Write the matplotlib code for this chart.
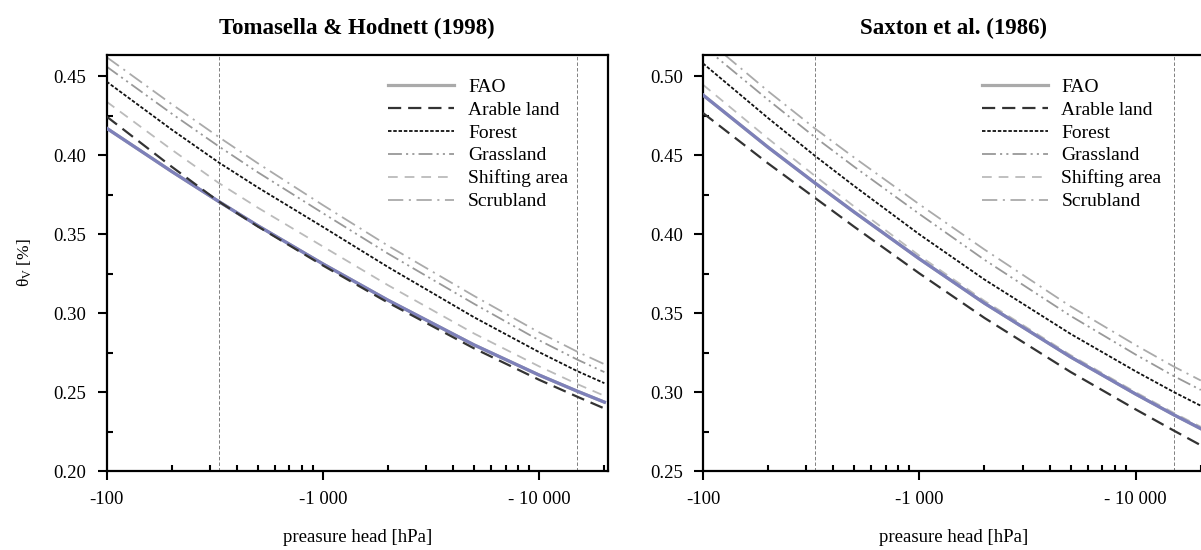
import matplotlib
matplotlib.use('Agg')
import matplotlib.pyplot as plt
from matplotlib.ticker import FixedLocator, NullFormatter, MultipleLocator, FormatStrFormatter

plt.rcParams['font.family'] = ['Liberation Serif', 'DejaVu Serif']
plt.rcParams['mathtext.fontset'] = 'custom'
plt.rcParams['mathtext.rm'] = 'Liberation Serif'
plt.rcParams['mathtext.it'] = 'Liberation Serif:italic'
plt.rcParams['lines.scale_dashes'] = False

# pressure head (absolute value, hPa)
h = [100, 200, 330, 500, 1000, 2000, 5000, 10000, 15000, 20000]

# Tomasella & Hodnett (1998)
th_fao = [0.417, 0.3896, 0.3706, 0.3553, 0.3311, 0.3081, 0.2798, 0.2607, 0.2505, 0.2436]
th_arable = [0.4244, 0.3926, 0.3706, 0.3548, 0.3301, 0.3066, 0.2776, 0.2577, 0.2470, 0.2396]
th_forest = [0.4465, 0.4161, 0.3953, 0.3795, 0.3545, 0.3291, 0.2973, 0.2752, 0.2632, 0.2556]
th_grass = [0.456, 0.4262, 0.4055, 0.3891, 0.3632, 0.3376, 0.3058, 0.2827, 0.2705, 0.2626]
th_shift = [0.4338, 0.4034, 0.3823, 0.3667, 0.3421, 0.3176, 0.2870, 0.2662, 0.2550, 0.2476]
th_scrub = [0.462, 0.4322, 0.4114, 0.3948, 0.3683, 0.3426, 0.3108, 0.2877, 0.2755, 0.2676]

# Saxton et al. (1986)
sx_fao = [0.488, 0.4549, 0.4322, 0.4139, 0.3843, 0.3562, 0.3222, 0.2987, 0.2856, 0.2768]
sx_arable = [0.4766, 0.4447, 0.4228, 0.4046, 0.3751, 0.3469, 0.3127, 0.2890, 0.2756, 0.2663]
sx_forest = [0.508, 0.4734, 0.4494, 0.4304, 0.3998, 0.3712, 0.3368, 0.3131, 0.3000, 0.2913]
sx_grass = [0.519, 0.4849, 0.4612, 0.4426, 0.4127, 0.3837, 0.3482, 0.3237, 0.3101, 0.3013]
sx_shift = [0.4945, 0.4604, 0.4367, 0.4174, 0.3863, 0.3577, 0.3234, 0.2999, 0.2868, 0.2780]
sx_scrub = [0.525, 0.4904, 0.4667, 0.4484, 0.4188, 0.3902, 0.3542, 0.3297, 0.3161, 0.3073]

field_capacity = 330
wilting_point = 15000

x_ticks = [100, 1000, 10000]
x_ticklabels = ['-100', '-1 000', '- 10 000']
x_minor = [200, 300, 400, 500, 600, 700, 800, 900,
           2000, 3000, 4000, 5000, 6000, 7000, 8000, 9000, 20000]

fig = plt.figure(figsize=(12.01, 5.5), dpi=100)
ax1 = fig.add_axes([0.0887, 0.1436, 0.4176, 0.7564])
ax2 = fig.add_axes([0.5853, 0.1436, 0.4176, 0.7564])

def draw(ax, fao, arable, forest, grass, shift, scrub, title, ylim, leg_x):
    ax.axvline(field_capacity, color='#808080', lw=0.7, dashes=(2.5, 1.5), zorder=1)
    ax.axvline(wilting_point, color='#808080', lw=0.7, dashes=(2.5, 1.5), zorder=1)
    ax.plot(h, scrub, color='#aaaaaa', lw=1.3, dashes=(11, 4, 1.5, 4), label='Scrubland', zorder=2)
    ax.plot(h, grass, color='#999999', lw=1.3, dashes=(10, 3, 1.5, 3, 1.5, 3), label='Grassland', zorder=2)
    ax.plot(h, shift, color='#bbbbbb', lw=1.3, dashes=(7, 5), label='Shifting area', zorder=2)
    ax.plot(h, forest, color='#111111', lw=1.3, dashes=(2.5, 1.3), label='Forest', zorder=3)
    ax.plot(h, fao, color='#aaaaaa', lw=2.3, label='FAO', zorder=3)
    ax.plot(h, fao, color='#7d80b9', lw=2.3, zorder=4)
    ax.plot(h, arable, color='#333333', lw=1.6, dashes=(9.5, 5), label='Arable land', zorder=5)

    ax.set_xscale('log')
    ax.set_xlim(100, 20800)
    ax.set_ylim(*ylim)
    ax.xaxis.set_major_locator(FixedLocator(x_ticks))
    ax.set_xticklabels(x_ticklabels)
    ax.xaxis.set_minor_locator(FixedLocator(x_minor))
    ax.xaxis.set_minor_formatter(NullFormatter())
    ax.yaxis.set_major_locator(MultipleLocator(0.05))
    ax.yaxis.set_minor_locator(MultipleLocator(0.025))
    ax.yaxis.set_major_formatter(FormatStrFormatter('%.2f'))
    ax.tick_params(which='major', direction='out', length=6.5, width=1.5, labelsize=13.5, pad=8)
    ax.tick_params(which='minor', direction='in', length=4, width=1.5)
    for s in ax.spines.values():
        s.set_linewidth(1.6)
    ax.set_title(title, fontsize=16.5, fontweight='bold', pad=15)
    ax.set_xlabel('preasure head [hPa]', fontsize=13.5, labelpad=15)

    handles, labels = ax.get_legend_handles_labels()
    order = ['FAO', 'Arable land', 'Forest', 'Grassland', 'Shifting area', 'Scrubland']
    hd = dict(zip(labels, handles))
    ax.legend([hd[k] for k in order], order, loc='upper right', frameon=False,
              fontsize=14, handlelength=3.4, handletextpad=0.7, labelspacing=0.27,
              borderaxespad=0, bbox_to_anchor=(leg_x, 0.963))

draw(ax1, th_fao, th_arable, th_forest, th_grass, th_shift, th_scrub,
     'Tomasella & Hodnett (1998)', (0.2, 0.4633), 0.936)
draw(ax2, sx_fao, sx_arable, sx_forest, sx_grass, sx_shift, sx_scrub,
     'Saxton et al. (1986)', (0.25, 0.5133), 0.930)

ax1.set_ylabel(r'θ$_\mathrm{V}$ [%]', fontsize=12.5, labelpad=14)

fig.savefig('out.png', dpi=100)
